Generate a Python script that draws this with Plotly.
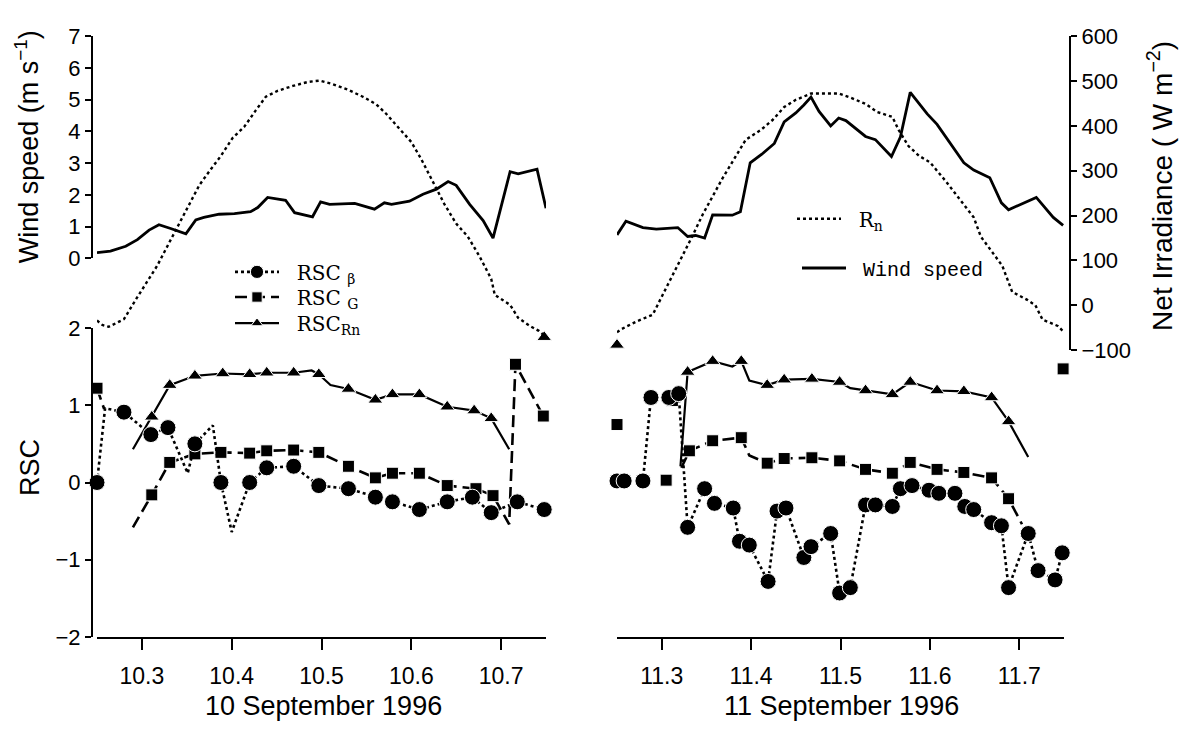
import plotly.graph_objects as go

W, H = 1182, 738

# ---------------- data : 10 September 1996 ----------------
wind_t_10 = [10.250, 10.265, 10.282, 10.295, 10.308, 10.319, 10.332, 10.349, 10.360, 10.369,
             10.386, 10.403, 10.421, 10.429, 10.440, 10.460, 10.470, 10.490, 10.499, 10.509,
             10.537, 10.559, 10.570, 10.578, 10.598, 10.613, 10.628, 10.641, 10.650, 10.665,
             10.680, 10.691, 10.710, 10.719, 10.740, 10.750]
wind_10 = [0.18, 0.23, 0.38, 0.59, 0.89, 1.06, 0.94, 0.77, 1.21, 1.29,
           1.39, 1.41, 1.47, 1.60, 1.92, 1.83, 1.44, 1.31, 1.78, 1.70,
           1.73, 1.55, 1.75, 1.70, 1.80, 2.02, 2.18, 2.42, 2.30, 1.70,
           1.19, 0.64, 2.73, 2.66, 2.81, 1.58]

rn_t_10 = [10.250, 10.256, 10.263, 10.269, 10.280, 10.293, 10.306, 10.317, 10.330, 10.343,
           10.356, 10.364, 10.377, 10.388, 10.401, 10.414, 10.427, 10.438, 10.451, 10.468,
           10.485, 10.498, 10.511, 10.529, 10.546, 10.561, 10.572, 10.585, 10.600, 10.611,
           10.624, 10.637, 10.650, 10.663, 10.676, 10.689, 10.693, 10.710, 10.719, 10.732,
           10.742, 10.750]
rn_10 = [-34, -44, -48, -42, -31, 12, 52, 88, 138, 189,
         239, 268, 304, 333, 373, 398, 435, 465, 478, 489,
         498, 501, 494, 481, 465, 448, 427, 398, 364, 326,
         276, 225, 182, 153, 109, 59, 23, 1, -28, -46,
         -57, -71]

beta_t_10 = [10.250, 10.259, 10.280, 10.310, 10.329, 10.351, 10.359, 10.379, 10.388, 10.400,
             10.420, 10.439, 10.469, 10.497, 10.530, 10.560, 10.579, 10.609, 10.640, 10.668,
             10.689, 10.718, 10.748]
beta_10 = [0.00, 0.96, 0.91, 0.62, 0.71, 0.12, 0.50, 0.74, 0.00, -0.64,
           0.00, 0.19, 0.21, -0.04, -0.08, -0.19, -0.25, -0.35, -0.25, -0.19,
           -0.39, -0.25, -0.35]

g_t_10 = [10.250, 10.258, None, 10.290, 10.311, 10.331, 10.359, 10.388, 10.420, 10.439,
          10.469, 10.497, 10.530, 10.560, 10.579, 10.609, 10.640, 10.672, 10.691, 10.709,
          10.716, 10.747]
g_10 = [1.22, 0.95, None, -0.58, -0.16, 0.26, 0.37, 0.39, 0.38, 0.41,
        0.42, 0.39, 0.21, 0.06, 0.12, 0.12, -0.04, -0.08, -0.17, -0.54,
        1.53, 0.86]

rnr_t_10 = [10.290, 10.311, 10.331, 10.359, 10.390, 10.420, 10.439, 10.469, 10.489, 10.497,
            10.510, 10.530, 10.560, 10.579, 10.609, 10.640, 10.670, 10.689, 10.709, None,
            10.748]
rnr_10 = [0.43, 0.85, 1.26, 1.38, 1.41, 1.40, 1.42, 1.42, 1.45, 1.40,
          1.26, 1.21, 1.07, 1.14, 1.14, 0.98, 0.93, 0.83, 0.43, None,
          1.88]

# ---------------- data : 11 September 1996 ----------------
wind_t_11 = [11.250, 11.260, 11.279, 11.294, 11.318, 11.329, 11.338, 11.348, 11.357, 11.379,
             11.388, 11.399, 11.412, 11.426, 11.437, 11.450, 11.459, 11.467, 11.476, 11.489,
             11.498, 11.506, 11.528, 11.539, 11.557, 11.567, 11.578, 11.597, 11.608, 11.623,
             11.638, 11.649, 11.667, 11.680, 11.688, 11.719, 11.738, 11.749]
wind_11 = [0.74, 1.17, 0.97, 0.92, 0.97, 0.69, 0.72, 0.64, 1.37, 1.36,
           1.47, 3.01, 3.28, 3.62, 4.30, 4.58, 4.83, 5.08, 4.63, 4.17,
           4.42, 4.34, 3.84, 3.74, 3.21, 3.82, 5.23, 4.55, 4.22, 3.62,
           3.01, 2.78, 2.54, 1.75, 1.53, 1.92, 1.29, 1.04]

rn_t_11 = [11.250, 11.255, 11.273, 11.290, 11.301, 11.312, 11.323, 11.334, 11.346, 11.355,
           11.368, 11.381, 11.394, 11.411, 11.424, 11.437, 11.450, 11.467, 11.485, 11.498,
           11.511, 11.528, 11.541, 11.558, 11.565, 11.576, 11.588, 11.600, 11.618, 11.631,
           11.638, 11.649, 11.657, 11.670, 11.681, 11.692, 11.709, 11.718, 11.726, 11.743,
           11.750]
rn_11 = [-60, -53, -35, -21, 23, 66, 109, 153, 203, 236,
         283, 326, 369, 391, 413, 442, 458, 472, 472, 472,
         463, 449, 431, 420, 391, 355, 333, 319, 276, 243,
         225, 196, 153, 117, 88, 30, 12, 0, -32, -46,
         -60]

beta_t_11 = [11.250, 11.258, 11.279, 11.288, 11.308, 11.319, 11.329, 11.348, 11.359, 11.380,
             11.387, 11.398, 11.419, 11.429, 11.439, 11.459, 11.467, 11.489, 11.499, 11.511,
             11.528, 11.539, 11.558, 11.567, 11.580, 11.599, 11.610, 11.628, 11.639, 11.649,
             11.669, 11.680, 11.688, 11.710, 11.721, 11.740, 11.748]
beta_11 = [0.02, 0.02, 0.02, 1.10, 1.10, 1.15, -0.58, -0.08, -0.27, -0.33,
           -0.76, -0.81, -1.28, -0.37, -0.33, -0.97, -0.83, -0.66, -1.43, -1.36,
           -0.29, -0.29, -0.31, -0.08, -0.04, -0.10, -0.14, -0.14, -0.31, -0.35,
           -0.52, -0.56, -1.36, -0.66, -1.14, -1.26, -0.91]

g_t_11 = [11.250, None, 11.305, None, 11.312, None, 11.322, 11.331, 11.357, 11.389,
          11.398, 11.418, 11.437, 11.468, 11.499, 11.528, 11.558, 11.578, 11.608, 11.638,
          11.669, 11.688, 11.703, None, 11.749]
g_11 = [0.75, None, 0.03, None, 1.06, None, 0.19, 0.41, 0.54, 0.58,
        0.35, 0.25, 0.31, 0.32, 0.28, 0.17, 0.12, 0.26, 0.17, 0.13,
        0.06, -0.21, -0.54, None, 1.47]

rnr_t_11 = [11.250, None, 11.321, 11.329, 11.357, 11.379, 11.389, 11.398, 11.418, 11.437,
            11.468, 11.499, 11.511, 11.528, 11.558, 11.578, 11.608, 11.638, 11.669, 11.688,
            11.710]
rnr_11 = [1.78, None, 0.21, 1.43, 1.57, 1.50, 1.57, 1.32, 1.26, 1.33,
          1.34, 1.30, 1.22, 1.19, 1.14, 1.30, 1.19, 1.18, 1.10, 0.79,
          0.33]

# ---------------- ticks / labels ----------------
x_ticks_10 = [10.3, 10.4, 10.5, 10.6, 10.7]
x_ticks_11 = [11.3, 11.4, 11.5, 11.6, 11.7]
wind_ticks = [0, 1, 2, 3, 4, 5, 6, 7]
irr_ticks = [-100, 0, 100, 200, 300, 400, 500, 600]
rsc_ticks = [-2, -1, 0, 1, 2]

name_beta = "  RSC <sub>β</sub>"
name_g = "  RSC <sub>G</sub>"
name_rnr = "  RSC<sub>Rn</sub>"
name_rn = "  R<sub>n</sub>"
name_wind = " Wind speed"
title_wind = "Wind speed (m s<sup>−1</sup>)"
title_irr = "Net Irradiance ( W m<sup>−2</sup>)"
title_rsc = "RSC"
title_day10 = "10 September 1996"
title_day11 = "11 September 1996"

# ---------------- styling ----------------
def px_x(p):
    return p / W


def px_y(p):
    return 1 - p / H


SANS = "Liberation Sans, Arial, sans-serif"
NARROW = "Liberation Sans Narrow, Arial Narrow, Liberation Sans, sans-serif"
SERIF = "DejaVu Serif, Liberation Serif, serif"
MONO = "Liberation Mono, DejaVu Sans Mono, monospace"

hide_beta_10 = {1, 5, 7, 9}
hide_g_10 = {1, 3, 19}
hide_rnr_10 = {0, 8, 10, 18}
hide_beta_11 = set()
hide_g_11 = {6, 10, 22}
hide_rnr_11 = {2, 5, 7, 12, 20}


def sizes(n, hidden, s):
    return [0 if i in hidden else s for i in range(n)]


fig = go.Figure()

common = dict(cliponaxis=False, hoverinfo="skip")


def add_day(xa, ya_wind, ya_irr, ya_rsc, wt, wv, rt, rv, bt, bv, gt, gv, nt, nv,
            hb, hg, hn, show):
    fig.add_trace(go.Scatter(x=wt, y=wv, xaxis=xa, yaxis=ya_wind, mode="lines",
                             line=dict(color="black", width=2.8), name=name_wind,
                             legend="legend5", showlegend=show, **common))
    fig.add_trace(go.Scatter(x=rt, y=rv, xaxis=xa, yaxis=ya_irr, mode="lines",
                             line=dict(color="black", width=2.4, dash="3px,3px"),
                             name=name_rn, legend="legend4", showlegend=show, **common))
    fig.add_trace(go.Scatter(x=nt, y=nv, xaxis=xa, yaxis=ya_rsc, mode="lines+markers",
                             line=dict(color="black", width=2.2),
                             marker=dict(symbol="triangle-up", color="black", opacity=1,
                                         size=sizes(len(nt), hn, 13)),
                             name=name_rnr, legend="legend3", showlegend=show, **common))
    fig.add_trace(go.Scatter(x=gt, y=gv, xaxis=xa, yaxis=ya_rsc, mode="lines+markers",
                             line=dict(color="black", width=2.6, dash="12px,6px"),
                             marker=dict(symbol="square", color="black", opacity=1,
                                         size=sizes(len(gt), hg, 12)),
                             name=name_g, legend="legend2", showlegend=show, **common))
    fig.add_trace(go.Scatter(x=bt, y=bv, xaxis=xa, yaxis=ya_rsc, mode="lines+markers",
                             line=dict(color="black", width=2.6, dash="3px,3px"),
                             marker=dict(symbol="circle", color="black", opacity=1,
                                         size=sizes(len(bt), hb, 16)),
                             name=name_beta, legend="legend", showlegend=show, **common))


add_day("x", "y2", "y5", "y", wind_t_10, wind_10, rn_t_10, rn_10, beta_t_10, beta_10,
        g_t_10, g_10, rnr_t_10, rnr_10, hide_beta_10, hide_g_10, hide_rnr_10, True)
add_day("x2", "y3", "y6", "y4", wind_t_11, wind_11, rn_t_11, rn_11, beta_t_11, beta_11,
        g_t_11, g_11, rnr_t_11, rnr_11, hide_beta_11, hide_g_11, hide_rnr_11, False)

axis_common = dict(showgrid=False, zeroline=False, showline=True, linecolor="black",
                   linewidth=2, ticks="outside", tickcolor="black", tickwidth=1.6,
                   color="black")

xdom10 = [px_x(97), px_x(546)]
xdom11 = [px_x(617), px_x(1064)]
dom_rsc = [px_y(647), px_y(327)]
dom_wind = [px_y(255), px_y(25)]
dom_irr = [px_y(350), px_y(25)]

fig.update_layout(
    width=W, height=H,
    margin=dict(l=0, r=0, t=0, b=0),
    paper_bgcolor="white", plot_bgcolor="rgba(0,0,0,0)",
    xaxis=dict(domain=xdom10, range=[10.25, 10.75], anchor="y", tickvals=x_ticks_10,
               ticklen=11, ticklabelstandoff=6,
               tickfont=dict(family=NARROW, size=23), **axis_common),
    xaxis2=dict(domain=xdom11, range=[11.25, 11.75], anchor="y4", tickvals=x_ticks_11,
                ticklen=11, ticklabelstandoff=6,
                tickfont=dict(family=NARROW, size=23), **axis_common),
    yaxis=dict(domain=dom_rsc, range=[-2, 2], anchor="free", position=px_x(92),
               tickvals=rsc_ticks, ticklen=6, tickfont=dict(family=SANS, size=22),
               **axis_common),
    yaxis2=dict(domain=dom_wind, range=[0, 7], anchor="free", position=px_x(92),
                tickvals=wind_ticks, ticklen=6, tickfont=dict(family=SANS, size=22),
                **axis_common),
    yaxis3=dict(domain=dom_wind, range=[0, 7], anchor="x2", visible=False),
    yaxis4=dict(domain=dom_rsc, range=[-2, 2], anchor="x2", visible=False),
    yaxis5=dict(domain=dom_irr, range=[-100, 600], anchor="x", visible=False),
    yaxis6=dict(domain=dom_irr, range=[-100, 600], anchor="free", position=px_x(1070),
                side="right", tickvals=irr_ticks, ticklen=6,
                tickfont=dict(family=SANS, size=22), **axis_common),
    showlegend=True,
)

leg_common = dict(bgcolor="rgba(0,0,0,0)", borderwidth=0, xanchor="left",
                  yanchor="middle", itemclick=False, itemdoubleclick=False,
                  itemwidth=44)
fig.update_layout(
    legend=dict(x=px_x(230), y=px_y(269), font=dict(family=SERIF, size=20,
                color="black"), **leg_common),
    legend2=dict(x=px_x(230), y=px_y(295), font=dict(family=SERIF, size=20,
                 color="black"), **leg_common),
    legend3=dict(x=px_x(230), y=px_y(322), font=dict(family=SERIF, size=20,
                 color="black"), **leg_common),
    legend4=dict(x=px_x(792), y=px_y(214), font=dict(family=SERIF, size=20,
                 color="black"), **leg_common),
    legend5=dict(x=px_x(797), y=px_y(265), font=dict(family=MONO, size=20,
                 color="black"), **leg_common),
)

ann_font = dict(family=SANS, size=27, color="black")
fig.update_layout(annotations=[
    dict(text=title_wind, x=px_x(27), y=px_y(140), xref="paper", yref="paper",
         textangle=-90, showarrow=False, font=ann_font, xanchor="center", yanchor="middle"),
    dict(text=title_rsc, x=px_x(30), y=px_y(472), xref="paper", yref="paper",
         textangle=-90, showarrow=False, font=ann_font, xanchor="center", yanchor="middle"),
    dict(text=title_irr, x=px_x(1160), y=px_y(180), xref="paper", yref="paper",
         textangle=-90, showarrow=False, font=dict(family=SANS, size=28, color="black"),
         xanchor="center", yanchor="middle"),
    dict(text=title_day10, x=px_x(323), y=px_y(718), xref="paper", yref="paper",
         showarrow=False, font=ann_font, xanchor="center", yanchor="middle"),
    dict(text=title_day11, x=px_x(841), y=px_y(718), xref="paper", yref="paper",
         showarrow=False, font=ann_font, xanchor="center", yanchor="middle"),
])

fig.write_html("out.html")
